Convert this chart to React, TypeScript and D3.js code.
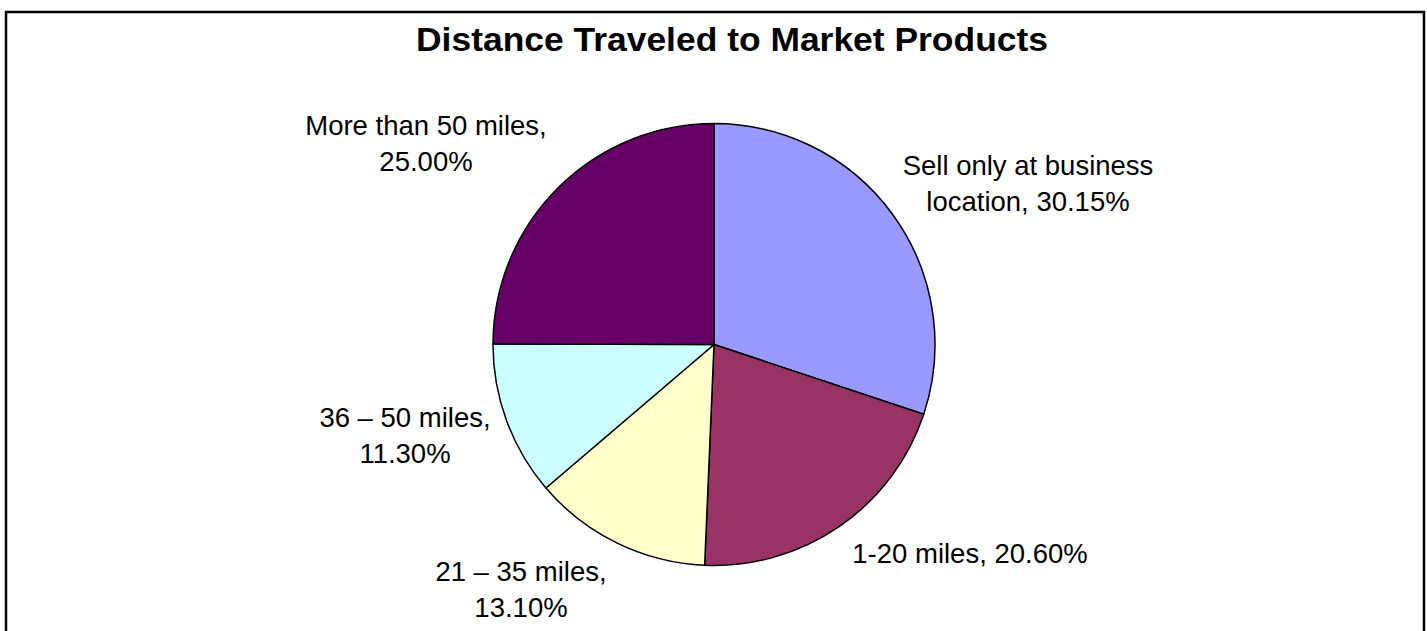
import React from "react";
import * as d3 from "d3";

const categories = [
  "Sell only at business location",
  "1-20 miles",
  "21 – 35 miles",
  "36 – 50 miles",
  "More than 50 miles",
];
const values = [30.15, 20.6, 13.1, 11.3, 25.0];
const labelLines = [
  ["Sell only at business", "location, 30.15%"],
  ["1-20 miles, 20.60%"],
  ["21 – 35 miles,", "13.10%"],
  ["36 – 50 miles,", "11.30%"],
  ["More than 50 miles,", "25.00%"],
];
const colors = ["#9999FF", "#993366", "#FFFFCC", "#CCFFFF", "#660066"];
const title = "Distance Traveled to Market Products";

// label anchor positions (centre x, first baseline y)
const labelPos = [
  [1028, 175],
  [970, 563],
  [521, 581],
  [405, 427],
  [426, 135],
];

export default function App() {
  const W = 1427;
  const H = 631;
  const cx = 714;
  const cy = 344.5;
  const r = 221;
  const pie = d3.pie<number>().sort(null).value((d) => d)(values);
  const arc = d3.arc<d3.PieArcDatum<number>>().innerRadius(0).outerRadius(r);
  const font = "'Liberation Sans', Arial, sans-serif";
  return (
    <svg
      width={W}
      height={H}
      style={{ position: "absolute", left: 0, top: 0, background: "#fff" }}
    >
      <rect x={0} y={0} width={W} height={H} fill="#fff" />
      <rect x={6} y={12} width={1418} height={700} fill="none" stroke="#000" strokeWidth={2.5} />
      <text
        x={732}
        y={51}
        textAnchor="middle"
        fontFamily={font}
        fontWeight="bold"
        fontSize={33}
        textLength={632}
        lengthAdjust="spacingAndGlyphs"
        fill="#000"
      >
        {title}
      </text>
      <g transform={`translate(${cx},${cy})`}>
        {pie.map((d, i) => (
          <path
            key={categories[i]}
            d={arc(d) || ""}
            fill={colors[i]}
            stroke="#000"
            strokeWidth={1.5}
            strokeLinejoin="round"
          />
        ))}
      </g>
      {labelLines.map((lines, i) => (
        <text
          key={categories[i]}
          x={labelPos[i][0]}
          y={labelPos[i][1]}
          textAnchor="middle"
          fontFamily={font}
          fontSize={27.5}
          fill="#000"
        >
          {lines.map((l, j) => (
            <tspan key={j} x={labelPos[i][0]} dy={j === 0 ? 0 : 35.7}>
              {l}
            </tspan>
          ))}
        </text>
      ))}
    </svg>
  );
}
